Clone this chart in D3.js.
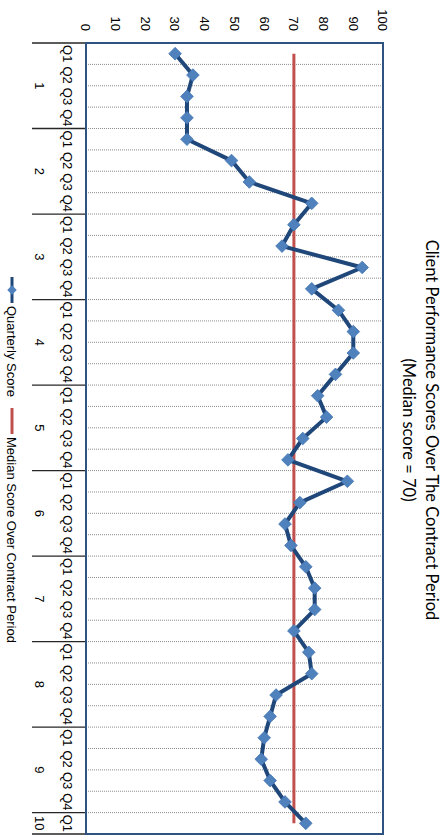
<!DOCTYPE html>
<html>
<head>
<meta charset="utf-8">
<script src="https://cdn.jsdelivr.net/npm/d3@7"></script>
<style>
  body { margin: 0; background: #fff; }
  svg { display: block; }
  text { font-family: "Liberation Sans", Arial, sans-serif; fill: #000; }
</style>
</head>
<body>
<svg id="chart" width="446" height="838"></svg>
<script>
// ---- data ----
const years = ["1", "2", "3", "4", "5", "6", "7", "8", "9", "10"];
const quarters = ["Q1", "Q2", "Q3", "Q4"];
const quarterlyScore = [30, 36, 34, 34, 34, 49, 55, 76, 70, 66, 93, 76, 85, 90, 90, 84, 78, 81, 73, 68,
                        88, 72, 67, 69, 74, 77, 77, 70, 75, 76, 64, 62, 60, 59, 62, 67, 74];
const medianScore = 70;
const valueTicks = [0, 10, 20, 30, 40, 50, 60, 70, 80, 90, 100];
const seriesNames = ["Quarterly Score", "Median Score Over Contract Period"];
const titleLines = ["Client Performance Scores Over The Contract Period", "(Median score = 70)"];

const periods = quarterlyScore.map((v, i) => ({
  key: i,
  year: years[Math.floor(i / 4)],
  quarter: quarters[i % 4],
  value: v
}));

// ---- layout: the chart is built landscape and turned a quarter-turn clockwise ----
const W = 838, H = 446;
const svg = d3.select("#chart");
const root = svg.append("g").attr("transform", `translate(${H},0) rotate(90)`);

const plot = { left: 43, right: 834, top: 63, bottom: 360 };

const x = d3.scaleBand()
  .domain(periods.map(d => d.key))
  .range([plot.left, plot.right]);
const y = d3.scaleLinear().domain([0, 100]).range([plot.bottom, plot.top]);
const cx = d => x(d.key) + x.bandwidth() / 2;

// dotted gridlines at each quarter boundary
root.append("g")
  .selectAll("line")
  .data(periods.slice(1))
  .join("line")
  .attr("x1", d => x(d.key)).attr("x2", d => x(d.key))
  .attr("y1", plot.top).attr("y2", plot.bottom)
  .attr("stroke", "#8c8c8c")
  .attr("stroke-width", 1)
  .attr("stroke-dasharray", "1,1");

// value axis
const yAxis = root.append("g")
  .attr("transform", `translate(${plot.left},0)`)
  .call(d3.axisLeft(y).tickValues(valueTicks).tickSize(0).tickPadding(12));
yAxis.select(".domain").remove();
yAxis.selectAll("text").style("font-size", "13px").style("font-family", "'Liberation Sans', Arial, sans-serif");

// quarter labels
const xAxis = root.append("g")
  .attr("transform", `translate(0,${plot.bottom})`)
  .call(d3.axisBottom(x).tickFormat(i => periods[i].quarter).tickSize(0).tickPadding(14));
xAxis.select(".domain").remove();
xAxis.selectAll("text").style("font-size", "13px").style("font-family", "'Liberation Sans', Arial, sans-serif");

// year group separators and labels
const yearStarts = years.map((yr, k) => k * 4);
const sepX = yearStarts.map(i => x(i)).concat([plot.right]);
root.append("g")
  .selectAll("line")
  .data(sepX)
  .join("line")
  .attr("x1", d => d).attr("x2", d => d)
  .attr("y1", plot.bottom).attr("y2", plot.bottom + 54)
  .attr("stroke", "#262626")
  .attr("stroke-width", 1.3);

root.append("g")
  .selectAll("text")
  .data(years)
  .join("text")
  .attr("x", (yr, k) => {
    const grp = periods.filter(p => p.year === yr);
    return (x(grp[0].key) + x(grp[grp.length - 1].key) + x.bandwidth()) / 2;
  })
  .attr("y", plot.bottom + 46)
  .attr("dy", "0.35em")
  .attr("text-anchor", "middle")
  .style("font-size", "13px")
  .text(d => d);

// plot frame
root.append("rect")
  .attr("x", plot.left).attr("y", plot.top)
  .attr("width", plot.right - plot.left).attr("height", plot.bottom - plot.top)
  .attr("fill", "none")
  .attr("stroke", "#2f5380")
  .attr("stroke-width", 2);

// median line
const medianLine = d3.line().x(cx).y(() => y(medianScore));
root.append("path")
  .datum(periods)
  .attr("d", medianLine)
  .attr("fill", "none")
  .attr("stroke", "#c0504d")
  .attr("stroke-width", 3);

// quarterly score line with diamond markers
const scoreLine = d3.line().x(cx).y(d => y(d.value));
root.append("path")
  .datum(periods)
  .attr("d", scoreLine)
  .attr("fill", "none")
  .attr("stroke", "#1f477a")
  .attr("stroke-width", 4)
  .attr("stroke-linejoin", "round");

const diamond = d3.symbol().type(d3.symbolSquare).size(80);
root.append("g")
  .selectAll("path")
  .data(periods)
  .join("path")
  .attr("transform", d => `translate(${cx(d)},${y(d.value)}) rotate(45)`)
  .attr("d", diamond)
  .attr("fill", "#4f81bd")
  .attr("stroke", "#4677b4")
  .attr("stroke-width", 0.8);

// title
root.append("g")
  .selectAll("text")
  .data(titleLines)
  .join("text")
  .attr("x", 430)
  .attr("y", (d, i) => 20 + i * 23)
  .attr("text-anchor", "middle")
  .style("font-family", "Lato, 'Open Sans', sans-serif")
  .style("font-size", "16.5px")
  .text(d => d);

// legend
const legY = 434;
const legend = root.append("g");
const e1 = legend.append("g").attr("transform", "translate(277,0)");
e1.append("line").attr("x1", 0).attr("x2", 26).attr("y1", legY).attr("y2", legY)
  .attr("stroke", "#1f477a").attr("stroke-width", 3);
e1.append("path").attr("d", d3.symbol().type(d3.symbolSquare).size(45))
  .attr("transform", `translate(13,${legY}) rotate(45)`).attr("fill", "#4f81bd");
e1.append("text").attr("x", 29).attr("y", legY).attr("dy", "0.35em")
  .style("font-size", "13px").text(seriesNames[0]);

const e2 = legend.append("g").attr("transform", "translate(408,0)");
e2.append("line").attr("x1", 0).attr("x2", 26).attr("y1", legY).attr("y2", legY)
  .attr("stroke", "#c0504d").attr("stroke-width", 3);
e2.append("text").attr("x", 29).attr("y", legY).attr("dy", "0.35em")
  .style("font-size", "13px").text(seriesNames[1]);
</script>
</body>
</html>
